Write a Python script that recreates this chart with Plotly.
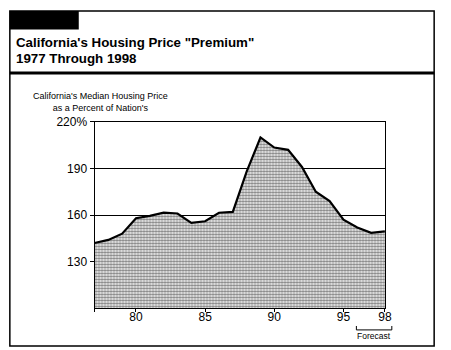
import plotly.graph_objects as go

years = [77, 78, 79, 80, 81, 82, 83, 84, 85, 86, 87, 88, 89, 90, 91, 92, 93, 94, 95, 96, 97, 98]
premium = [142, 144, 148, 158, 159.5, 161.5, 161, 155, 156, 161.5, 162, 188, 210, 203.5, 202, 191, 175, 169, 157, 152, 148.5, 149.5]

x_tickvals = [77, 80, 85, 90, 95, 98]
x_ticktext = ["", "80", "85", "90", "95", "98"]
y_tickvals = [130, 160, 190, 220]
y_ticktext = ["130", "160", "190", "220%"]

title_line1 = 'California\'s Housing Price "Premium"'
title_line2 = "1977 Through 1998"
ytitle = "California's Median Housing Price<br>as a Percent of Nation's"
forecast_label = "Forecast"

W, H = 451, 350
def px(x):
    return x / W
def py(y):
    return 1 - y / H

FONT = "Liberation Sans, Arial, sans-serif"

fig = go.Figure()
fig.add_trace(go.Scatter(
    x=years, y=premium, mode="lines", fill="tozeroy",
    line=dict(color="black", width=2.2),
    fillcolor="white",
    fillpattern=dict(shape=".", fgcolor="black", bgcolor="white", size=3, solidity=0.55),
    hoverinfo="skip", showlegend=False,
))

fig.update_layout(
    width=W, height=H,
    margin=dict(l=0, r=0, t=0, b=0),
    paper_bgcolor="white", plot_bgcolor="white",
    font=dict(family=FONT, color="black", size=11),
    xaxis=dict(
        domain=[px(96), px(391)], range=[77, 98],
        tickvals=x_tickvals, ticktext=x_ticktext,
        ticks="outside", ticklen=3, tickwidth=1, tickcolor="black",
        ticklabelstandoff=-6,
        showline=True, linecolor="black", linewidth=1, mirror=True,
        showgrid=False, zeroline=False, fixedrange=True,
        tickfont=dict(size=12),
    ),
    yaxis=dict(
        domain=[py(307.3), py(117.3)], range=[100, 220],
        tickvals=y_tickvals, ticktext=y_ticktext,
        ticks="outside", ticklen=4, tickwidth=1, tickcolor="black",
        showline=True, linecolor="black", linewidth=1, mirror=True,
        showgrid=True, gridcolor="black", gridwidth=1,
        zeroline=False, fixedrange=True,
        tickfont=dict(size=12),
    ),
    shapes=[
        dict(type="rect", xref="paper", yref="paper", x0=px(10), x1=px(441), y0=py(346), y1=py(4),
             line=dict(color="black", width=1.5), fillcolor="rgba(0,0,0,0)", layer="above"),
        dict(type="rect", xref="paper", yref="paper", x0=px(10), x1=px(80), y0=py(23), y1=py(4),
             line=dict(width=0), fillcolor="black"),
        dict(type="line", xref="paper", yref="paper", x0=px(10), x1=px(441), y0=py(67.3), y1=py(67.3),
             line=dict(color="black", width=3)),
        # forecast bracket
        dict(type="line", xref="paper", yref="paper", x0=px(362), x1=px(398), y0=py(329.5), y1=py(329.5),
             line=dict(color="black", width=1)),
        dict(type="line", xref="paper", yref="paper", x0=px(362), x1=px(362), y0=py(325.5), y1=py(329.5),
             line=dict(color="black", width=1)),
        dict(type="line", xref="paper", yref="paper", x0=px(398), x1=px(398), y0=py(325.5), y1=py(329.5),
             line=dict(color="black", width=1)),
    ],
    annotations=[
        dict(text="<b>" + title_line1 + "</b>", x=px(14), y=py(36), xref="paper", yref="paper",
             xanchor="left", yanchor="middle", showarrow=False, font=dict(size=13.3)),
        dict(text="<b>" + title_line2 + "</b>", x=px(14), y=py(52.5), xref="paper", yref="paper",
             xanchor="left", yanchor="middle", showarrow=False, font=dict(size=13.3)),
        dict(text=ytitle, x=px(102), y=py(96.5), xref="paper", yref="paper",
             xanchor="center", yanchor="middle", showarrow=False, font=dict(size=9), align="center"),
        dict(text=forecast_label, x=px(380), y=py(336), xref="paper", yref="paper",
             xanchor="center", yanchor="middle", showarrow=False, font=dict(size=8.5)),
    ],
)

fig.write_html("out.html")
